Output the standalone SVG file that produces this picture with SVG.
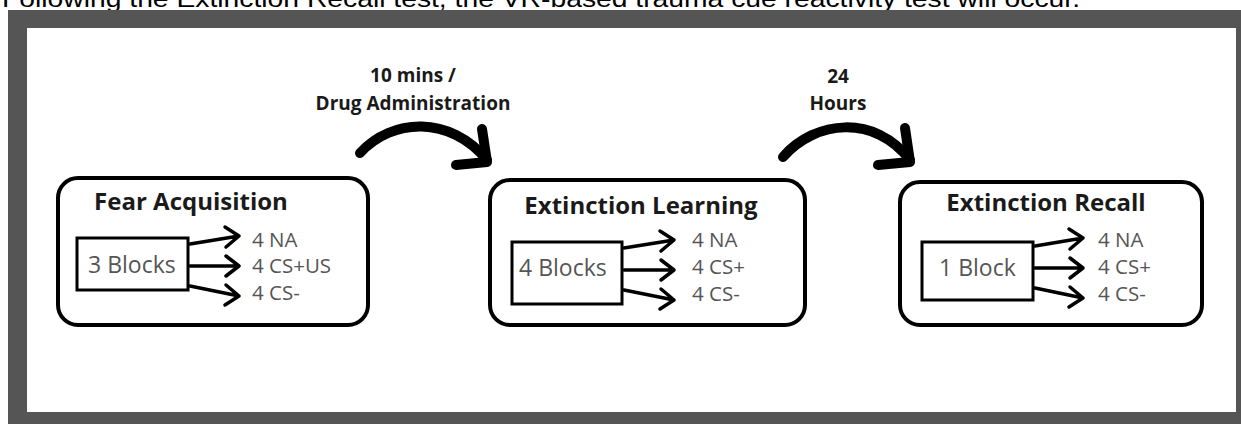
<svg xmlns="http://www.w3.org/2000/svg" width="1241" height="424" viewBox="0 0 1241 424">
<style>
.title{font-family:"Open Sans",sans-serif;font-weight:bold;font-size:24px;fill:#1a1a1a;text-anchor:middle}
.blk{font-family:"Open Sans",sans-serif;font-size:23px;fill:#555}
.lbl{font-family:"Open Sans",sans-serif;font-size:20.5px;fill:#555}
.cap{font-family:"Open Sans",sans-serif;font-weight:bold;font-size:19px;fill:#1a1a1a;text-anchor:middle}
.node{fill:#fff;stroke:#000;stroke-width:4}
.inner{fill:#fff;stroke:#000;stroke-width:3}
.sa{fill:none;stroke:#000;stroke-width:3.5;stroke-linecap:round;stroke-linejoin:round}
.big{fill:none;stroke:#000;stroke-width:10;stroke-linecap:round;stroke-linejoin:round}
</style>
<rect x="0" y="0" width="1241" height="424" fill="#fff"/>
<text x="2" y="7" font-family="Liberation Sans, Arial, sans-serif" font-size="24" fill="#000" textLength="1078" lengthAdjust="spacingAndGlyphs">Following the Extinction Recall test, the VR-based trauma cue reactivity test will occur.</text>
<rect x="8" y="10" width="1233" height="414" fill="#555"/>
<rect x="27" y="28" width="1209" height="384" fill="#fff"/>

<g id="node-fear">
<rect class="node" x="58" y="178" width="310" height="147" rx="20"/>
<text class="title" x="191" y="210">Fear Acquisition</text>
<rect class="inner" x="77" y="238" width="111" height="52"/>
<text class="blk" x="88" y="273">3 Blocks</text>
<path class="sa" d="M190,244 L239,236 M225,227 L239,236 L226,247"/>
<path class="sa" d="M190,266 L239,266 M226,256 L239,266 L226,276"/>
<path class="sa" d="M190,286 L239,296 M226,285 L239,296 L225,305"/>
<text class="lbl" x="252" y="247">4 NA</text>
<text class="lbl" x="252" y="273">4 CS+US</text>
<text class="lbl" x="252" y="300">4 CS-</text>
</g>

<g id="node-learning">
<rect class="node" x="490" y="180" width="315" height="145" rx="20"/>
<text class="title" x="641" y="214">Extinction Learning</text>
<rect class="inner" x="512" y="242" width="110" height="62"/>
<text class="blk" x="519" y="276">4 Blocks</text>
<path class="sa" d="M624,248 L674,240 M660,231 L674,240 L661,251"/>
<path class="sa" d="M624,270 L674,270 M661,260 L674,270 L661,280"/>
<path class="sa" d="M624,290 L674,300 M661,289 L674,300 L660,309"/>
<text class="lbl" x="692" y="247">4 NA</text>
<text class="lbl" x="692" y="274">4 CS+</text>
<text class="lbl" x="692" y="301">4 CS-</text>
</g>

<g id="node-recall">
<rect class="node" x="900" y="182" width="302" height="143" rx="20"/>
<text class="title" x="1046" y="211">Extinction Recall</text>
<rect class="inner" x="922" y="242" width="111" height="58"/>
<text class="blk" x="939" y="276">1 Block</text>
<path class="sa" d="M1035,246 L1083,238 M1069,229 L1083,238 L1070,249"/>
<path class="sa" d="M1035,268 L1083,268 M1070,258 L1083,268 L1070,278"/>
<path class="sa" d="M1035,288 L1083,298 M1070,287 L1083,298 L1069,307"/>
<text class="lbl" x="1098" y="247">4 NA</text>
<text class="lbl" x="1098" y="274">4 CS+</text>
<text class="lbl" x="1098" y="301">4 CS-</text>
</g>

<g id="connectors">
<path class="big" d="M360,153 C392,118 450,115 487,160"/>
<path class="big" d="M482,129 L487,162 L456,165"/>
<path class="big" d="M783,157 C815,120 875,114 910,160"/>
<path class="big" d="M905,128 L910,162 L878,165"/>
</g>
<g id="labels">
<text class="cap" x="413" y="82">10 mins /</text>
<text class="cap" x="413" y="110">Drug Administration</text>
<text class="cap" x="838" y="83">24</text>
<text class="cap" x="838" y="110">Hours</text>
</g>
</svg>
